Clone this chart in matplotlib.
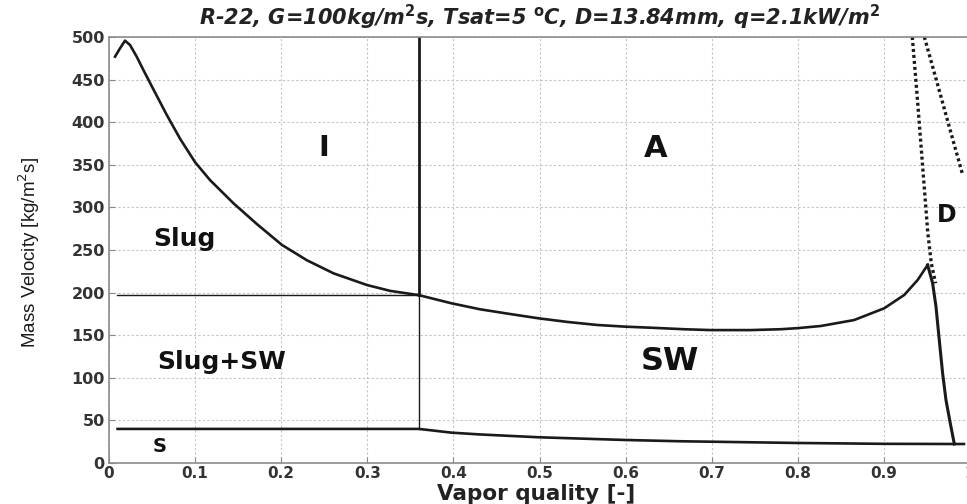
import matplotlib
matplotlib.use("Agg")
import matplotlib.pyplot as plt
from matplotlib import font_manager

# Transition curves (vapor quality, mass velocity)
upper_x = [0.007, 0.0128, 0.0186, 0.0244, 0.0322, 0.0399, 0.0516, 0.0671, 0.0826, 0.1, 0.1174,
           0.1446, 0.1717, 0.2008, 0.2298, 0.2608, 0.2996, 0.3267, 0.36]
upper_y = [476.9, 486.7, 495.7, 490.6, 476.9, 461.3, 438.5, 408.5, 380.5, 353, 332,
           304.8, 280.5, 256, 238, 222.6, 208.9, 202, 197]

sw_x = [0.36, 0.398, 0.431, 0.465, 0.499, 0.533, 0.567, 0.6, 0.629, 0.668, 0.699, 0.745,
        0.78, 0.80, 0.8267, 0.8655, 0.9004, 0.9236, 0.9392, 0.9508]
sw_y = [197, 187.4, 180.4, 175, 169.8, 165.5, 162, 160, 158.8, 157, 156, 156,
        157, 158.3, 160.8, 167.8, 181.6, 197.2, 214.8, 232.4]

drop_x = [0.9508, 0.9566, 0.9605, 0.9643, 0.9682, 0.9721, 0.9771, 0.9818]
drop_y = [232.4, 211, 183.5, 144.4, 105.3, 73.9, 46.6, 22.3]

strat_x = [0.01, 0.36, 0.398, 0.431, 0.499, 0.6, 0.664, 0.699, 0.80, 0.90, 0.9818, 0.993]
strat_y = [40, 40, 35.6, 33.5, 30.2, 27, 25.5, 25, 23.5, 22.5, 22.3, 22.3]

slug_sw_x = [0.009, 0.36]
slug_sw_y = [197, 197]

ia_x = [0.36, 0.36]
ia_upper_y = [197, 500]
ia_lower_y = [40, 197]

dryout_x = [0.933, 0.939, 0.945, 0.951, 0.955, 0.96]
dryout_y = [500, 426, 348, 270, 234.7, 211]

mist_x = [0.947, 0.962, 0.978, 0.991]
mist_y = [500, 445.6, 387, 340]

regions = [("I", 0.249, 370, 21), ("A", 0.635, 369, 22), ("Slug", 0.088, 263, 18),
           ("Slug+SW", 0.131, 118, 18), ("SW", 0.652, 119, 23), ("S", 0.059, 19, 14),
           ("D", 0.973, 291, 17)]

xticks = [0, 0.1, 0.2, 0.3, 0.4, 0.5, 0.6, 0.7, 0.8, 0.9, 1]
xticklabels = ["0", "0.1", "0.2", "0.3", "0.4", "0.5", "0.6", "0.7", "0.8", "0.9", "1"]
yticks = [0, 50, 100, 150, 200, 250, 300, 350, 400, 450, 500]

plt.rcParams['font.family'] = ['DejaVu Sans']

names = {f.name for f in font_manager.fontManager.ttflist}
if 'Liberation Sans Narrow' in names:
    ylab_family, ylab_size = ['Liberation Sans Narrow', 'DejaVu Sans'], 16
else:
    ylab_family, ylab_size = ['Liberation Sans', 'DejaVu Sans'], 13.5

fig = plt.figure(figsize=(9.67, 5.04), dpi=100)
ax = fig.add_axes([109/967, 41/504, 861/967, 426/504])

ax.set_xlim(0, 1)
ax.set_ylim(0, 500)
ax.set_xticks(xticks)
ax.set_xticklabels(xticklabels)
ax.set_yticks(yticks)
ax.grid(True, linestyle=(0, (2, 2)), color='#c4c4c4', linewidth=0.8)
for s in ax.spines.values():
    s.set_color('#8c8c8c')
    s.set_linewidth(1.2)
ax.tick_params(direction='in', length=4, color='#888888', pad=3)
ax.tick_params(axis='y', labelsize=11.5)
ax.tick_params(axis='x', labelsize=11, pad=2)
for lab in ax.get_xticklabels() + ax.get_yticklabels():
    lab.set_fontweight('bold')
    lab.set_color('#333333')

lc = '#1a1a1a'
ax.plot(upper_x, upper_y, color=lc, lw=1.9)
ax.plot(sw_x, sw_y, color=lc, lw=1.9)
ax.plot(drop_x, drop_y, color=lc, lw=2.2)
ax.plot(strat_x, strat_y, color=lc, lw=1.9)
ax.plot(slug_sw_x, slug_sw_y, color=lc, lw=1.0)
ax.plot(ia_x, ia_upper_y, color=lc, lw=2.0)
ax.plot(ia_x, ia_lower_y, color=lc, lw=1.0)
ax.plot(dryout_x, dryout_y, color=lc, lw=2.4, linestyle=(0, (0.9, 0.9)))
ax.plot(mist_x, mist_y, color=lc, lw=2.4, linestyle=(0, (0.9, 0.9)))

for txt, x, y, fs in regions:
    ax.text(x, y, txt, fontsize=fs, fontweight='bold', ha='center', va='center', color='#111111')

fig.text(539.5/967, 1 - 25/504,
         r"R-22, G=100kg/m$^\mathbf{2}$s, Tsat=5 $^\mathbf{o}$C, D=13.84mm, q=2.1kW/m$^\mathbf{2}$",
         fontsize=15, fontweight='bold', fontstyle='italic', ha='center', va='baseline', color='#222222')

ax.set_xlabel("Vapor quality [-]", fontsize=15.5, fontweight='bold', color='#222222')
ax.xaxis.set_label_coords((536 - 109) / 861, (463 - 484) / 426)
ax.set_ylabel(r"Mass Velocity [kg/m$^2$s]", fontsize=ylab_size, color='#1a1a1a', family=ylab_family)
ax.yaxis.set_label_coords((42 - 109) / 861, (463 - 252) / 426)

fig.savefig("out.png", dpi=100)
